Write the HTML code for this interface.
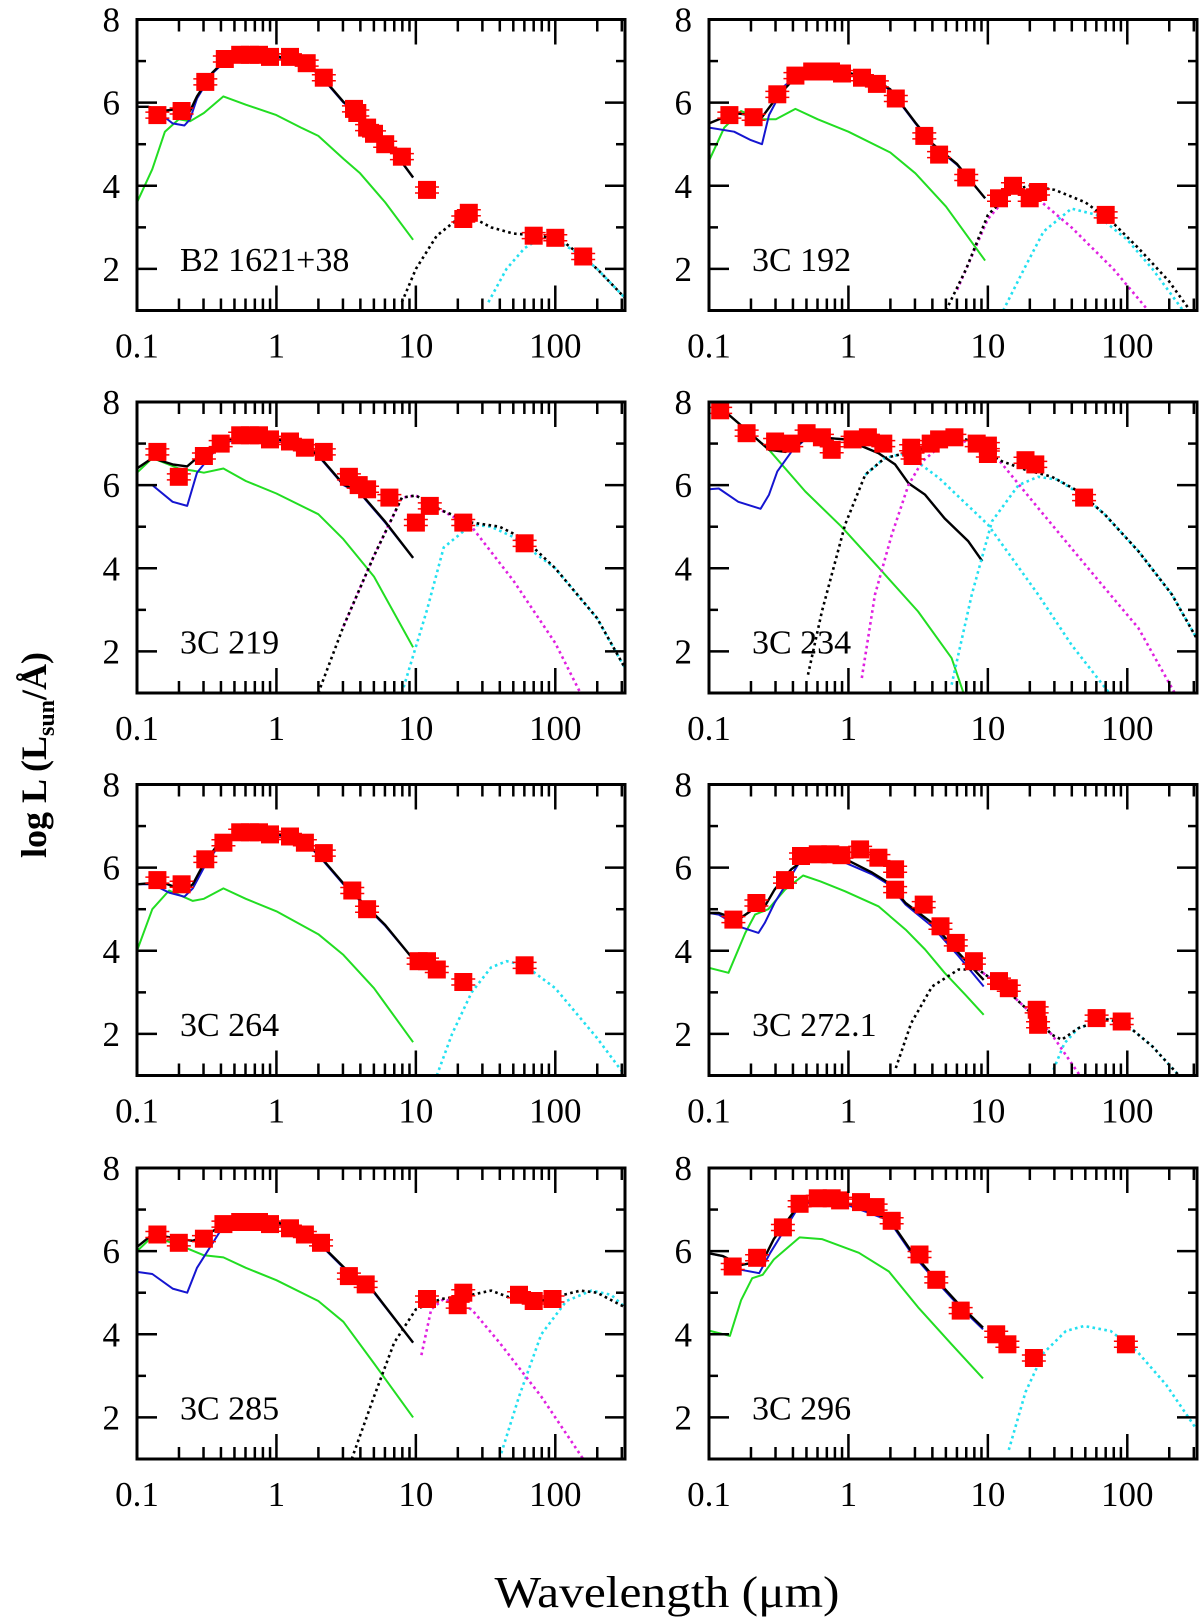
<!DOCTYPE html>
<html><head><meta charset="utf-8">
<style>
html,body{margin:0;padding:0;background:#fff;}
svg{display:block;}
text{font-family:"Liberation Sans",sans-serif;fill:#000;}
</style></head>
<body>
<svg id="chart" width="1200" height="1619" viewBox="0 0 1200 1619" xmlns="http://www.w3.org/2000/svg">
<text x="667" y="1607" font-size="44" text-anchor="middle" textLength="345" lengthAdjust="spacingAndGlyphs" style="font-family:'Liberation Serif',serif">Wavelength (μm)</text>
<text transform="translate(46,755) rotate(-90)" font-size="36" font-weight="bold" text-anchor="middle" style="font-family:'Liberation Serif',serif">log L (L<tspan font-size="24" dy="8">sun</tspan><tspan dy="-8">/Å)</tspan></text>
</svg>
<script>
// x data: log10(wavelength / micron); y data: log L
const xTickLabels = ["0.1","1","10","100"];
const yTickLabels = ["2","4","6","8"];
const panelNames = ["B2 1621+38","3C 192","3C 219","3C 234","3C 264","3C 272.1","3C 285","3C 296"];

const p1_points=[[-0.854,5.7],[-0.68,5.8],[-0.51,6.5],[-0.37,7.05],[-0.26,7.15],[-0.19,7.15],[-0.125,7.15],[-0.046,7.1],[0.097,7.1],[0.217,6.95],[0.34,6.6],[0.556,5.85],[0.58,5.75],[0.65,5.4],[0.70,5.25],[0.78,5.0],[0.90,4.7],[1.08,3.9],[1.34,3.2],[1.38,3.35],[1.845,2.8],[2.0,2.75],[2.2,2.3]];
const p1_blue=[[-1,5.9],[-0.92,5.9],[-0.82,5.7],[-0.745,5.5],[-0.66,5.45],[-0.62,5.6],[-0.57,6.1],[-0.46,6.7],[-0.35,7.05],[-0.22,7.15],[0,7.1],[0.176,6.95],[0.3,6.7],[0.48,6.0],[0.6,5.7],[0.7,5.3],[0.845,4.8],[0.98,4.2]];
const p1_black=[[-1,5.9],[-0.92,5.9],[-0.82,5.8],[-0.70,5.85],[-0.62,5.8],[-0.57,6.15],[-0.46,6.72],[-0.35,7.08],[-0.22,7.17],[0,7.12],[0.176,6.97],[0.3,6.72],[0.48,6.02],[0.6,5.72],[0.7,5.32],[0.845,4.82],[0.98,4.2]];
const p1_green=[[-1,3.6],[-0.89,4.4],[-0.8,5.3],[-0.7,5.6],[-0.62,5.55],[-0.52,5.75],[-0.38,6.15],[-0.22,5.95],[0,5.7],[0.176,5.4],[0.3,5.2],[0.48,4.65],[0.6,4.3],[0.78,3.6],[0.98,2.7]];
const p1_dotted=[[0.9,1.2],[1,2.0],[1.15,2.8],[1.3,3.2],[1.4,3.25],[1.54,3.0],[1.7,2.85],[1.9,2.8],[2.08,2.6],[2.3,2.0],[2.5,1.3]];
const p1_cyan=[[1.52,1.2],[1.65,2.0],[1.78,2.5],[1.9,2.75],[2.0,2.7],[2.18,2.35],[2.3,2.0],[2.5,1.3]];
const p1_magenta=[];

const p2_points=[[-0.854,5.7],[-0.68,5.65],[-0.51,6.2],[-0.38,6.65],[-0.26,6.75],[-0.19,6.75],[-0.125,6.75],[-0.046,6.7],[0.097,6.6],[0.204,6.45],[0.34,6.1],[0.544,5.2],[0.65,4.75],[0.845,4.2],[1.08,3.7],[1.18,4.0],[1.3,3.7],[1.36,3.85],[1.845,3.3]];
const p2_blue=[[-1,5.4],[-0.82,5.3],[-0.7,5.1],[-0.62,5.0],[-0.57,5.7],[-0.46,6.4],[-0.35,6.7],[-0.22,6.8],[0,6.7],[0.204,6.5],[0.3,6.3],[0.48,5.5],[0.6,5.0],[0.78,4.5],[0.98,3.7]];
const p2_black=[[-1,5.5],[-0.82,5.75],[-0.7,5.7],[-0.62,5.65],[-0.52,6.1],[-0.35,6.72],[-0.22,6.82],[0,6.72],[0.204,6.52],[0.3,6.32],[0.48,5.52],[0.6,5.02],[0.78,4.52],[0.98,3.7]];
const p2_green=[[-1,4.6],[-0.89,5.4],[-0.77,5.8],[-0.62,5.6],[-0.52,5.6],[-0.38,5.85],[-0.22,5.6],[0,5.3],[0.3,4.8],[0.48,4.3],[0.7,3.5],[0.98,2.2]];
const p2_dotted=[[0.7,1.0],[0.845,2.0],[1,3.3],[1.18,3.9],[1.3,4.0],[1.48,3.9],[1.7,3.6],[1.9,3.1],[2.08,2.5],[2.3,1.7],[2.45,1.0]];
const p2_cyan=[[1.11,1.0],[1.26,2.0],[1.4,2.9],[1.6,3.45],[1.78,3.3],[2,2.7],[2.18,2.0],[2.4,1.0]];
const p2_magenta=[[0.78,1.5],[1,3.2],[1.18,3.9],[1.3,3.85],[1.6,3.0],[1.9,2.0],[2.15,1.0]];

const p3_points=[[-0.854,6.8],[-0.7,6.2],[-0.52,6.7],[-0.4,7.0],[-0.26,7.2],[-0.19,7.2],[-0.125,7.2],[-0.046,7.1],[0.097,7.05],[0.204,6.9],[0.34,6.8],[0.52,6.2],[0.59,6.0],[0.65,5.9],[0.81,5.7],[1.0,5.1],[1.1,5.5],[1.34,5.1],[1.78,4.6]];
const p3_blue=[[-1,6.0],[-0.89,6.0],[-0.745,5.6],[-0.64,5.5],[-0.57,6.3],[-0.4,7.0],[-0.22,7.15],[0,7.1],[0.204,6.9],[0.3,6.7],[0.48,6.0],[0.6,5.8],[0.78,5.1],[0.98,4.25]];
const p3_black=[[-1,6.4],[-0.89,6.65],[-0.745,6.5],[-0.64,6.45],[-0.52,6.8],[-0.35,7.1],[-0.22,7.17],[0,7.12],[0.204,6.92],[0.3,6.72],[0.48,6.02],[0.6,5.82],[0.78,5.12],[0.98,4.25]];
const p3_green=[[-1,6.3],[-0.89,6.65],[-0.7,6.4],[-0.6,6.35],[-0.52,6.3],[-0.38,6.4],[-0.22,6.1],[0,5.8],[0.3,5.3],[0.48,4.7],[0.7,3.8],[0.98,2.1]];
const p3_dotted=[[0.3,1.0],[0.48,2.6],[0.7,4.3],[0.9,5.7],[1,5.75],[1.18,5.4],[1.4,5.1],[1.6,5.0],[1.78,4.7],[2,4.0],[2.3,2.8],[2.5,1.6]];
const p3_cyan=[[0.9,1.0],[1.08,3.0],[1.2,4.5],[1.4,5.05],[1.54,5.0],[1.7,4.75],[2,4.0],[2.3,2.8],[2.5,1.6]];
const p3_magenta=[[0.48,2.6],[0.7,4.3],[0.9,5.7],[1,5.75],[1.18,5.4],[1.4,5.0],[1.7,3.7],[2.0,2.2],[2.18,1.0]];

const p4_points=[[-0.92,7.8],[-0.73,7.25],[-0.526,7.05],[-0.41,7.0],[-0.30,7.25],[-0.19,7.15],[-0.12,6.85],[0.03,7.1],[0.14,7.15],[0.25,7.0],[0.45,6.9],[0.46,6.7],[0.59,7.0],[0.65,7.1],[0.76,7.15],[0.92,7.0],[1.0,6.95],[1.0,6.75],[1.27,6.6],[1.34,6.5],[1.69,5.7]];
const p4_blue=[[-1,5.9],[-0.93,5.92],[-0.79,5.6],[-0.63,5.43],[-0.57,5.77],[-0.51,6.33],[-0.41,6.8],[-0.31,7.1],[-0.215,7.15],[-0.02,7.1],[0.215,6.77],[0.335,6.5],[0.43,6.05],[0.55,5.77],[0.69,5.2],[0.86,4.65],[0.96,4.17]];
const p4_black=[[-0.93,7.9],[-0.74,7.35],[-0.57,6.85],[-0.45,6.8],[-0.31,7.1],[-0.215,7.15],[-0.02,7.1],[0.215,6.77],[0.335,6.5],[0.43,6.05],[0.55,5.77],[0.69,5.2],[0.86,4.65],[0.96,4.17]];
const p4_green=[[-1,8.1],[-0.93,7.9],[-0.74,7.35],[-0.57,6.85],[-0.31,5.85],[-0.05,5.0],[0.24,3.93],[0.50,2.96],[0.74,1.84],[0.825,1.0]];
const p4_dotted=[[-0.29,1.44],[-0.19,2.96],[-0.024,5.05],[0.12,6.25],[0.26,6.65],[0.41,6.77],[0.55,6.9],[0.77,7.17],[0.89,7.05],[1.08,6.6],[1.27,6.37],[1.46,6.2],[1.65,5.85],[1.84,5.29],[2.08,4.41],[2.32,3.37],[2.5,2.3]];
const p4_cyan=[[0.12,6.25],[0.26,6.65],[0.41,6.77],[0.65,6.17],[1.0,5.05],[1.36,3.37],[1.6,2.16],[1.87,1.0]];
const p4_cyan2=[[0.74,1.2],[0.885,3.37],[1.03,5.13],[1.22,6.0],[1.36,6.2],[1.5,6.13],[1.7,5.7],[1.84,5.29],[2.08,4.41],[2.32,3.37],[2.5,2.3]];
const p4_magenta=[[0.096,1.36],[0.19,3.36],[0.31,4.8],[0.43,6.0],[0.53,6.57],[0.70,7.05],[0.79,7.13],[1.08,6.6],[1.36,5.45],[1.72,4.0],[2.08,2.56],[2.34,1.0]];

const p5_points=[[-0.854,5.7],[-0.68,5.6],[-0.51,6.2],[-0.38,6.6],[-0.26,6.85],[-0.19,6.85],[-0.125,6.85],[-0.046,6.8],[0.097,6.75],[0.204,6.6],[0.34,6.35],[0.544,5.45],[0.65,5.0],[1.02,3.75],[1.08,3.75],[1.15,3.55],[1.34,3.25],[1.78,3.65]];
const p5_blue=[[-1,5.6],[-0.89,5.6],[-0.77,5.4],[-0.66,5.3],[-0.6,5.5],[-0.52,6.0],[-0.4,6.6],[-0.22,6.85],[0,6.8],[0.204,6.6],[0.3,6.3],[0.48,5.6],[0.6,5.2],[0.78,4.6],[0.98,3.8]];
const p5_black=[[-1,5.6],[-0.82,5.65],[-0.66,5.45],[-0.6,5.6],[-0.52,6.1],[-0.4,6.65],[-0.22,6.87],[0,6.82],[0.204,6.62],[0.3,6.32],[0.48,5.62],[0.6,5.22],[0.78,4.62],[0.98,3.8]];
const p5_green=[[-1,4.0],[-0.89,5.0],[-0.77,5.45],[-0.6,5.2],[-0.52,5.25],[-0.38,5.5],[-0.22,5.25],[0,4.95],[0.3,4.4],[0.48,3.9],[0.7,3.1],[0.98,1.8]];
const p5_dotted=[];
const p5_cyan=[[1.15,1.0],[1.26,2.0],[1.4,3.0],[1.54,3.6],[1.65,3.75],[1.78,3.65],[2,3.1],[2.3,1.9],[2.5,1.0]];
const p5_magenta=[];

const p6_points=[[-0.825,4.75],[-0.66,5.15],[-0.455,5.7],[-0.34,6.28],[-0.22,6.32],[-0.13,6.32],[-0.05,6.3],[0.084,6.44],[0.215,6.24],[0.335,5.96],[0.335,5.47],[0.54,5.11],[0.66,4.59],[0.77,4.19],[0.90,3.75],[1.08,3.27],[1.15,3.1],[1.35,2.58],[1.36,2.22],[1.78,2.38],[1.96,2.3]];
const p6_blue=[[-1,4.91],[-0.93,4.87],[-0.79,4.59],[-0.645,4.43],[-0.6,4.67],[-0.53,5.15],[-0.36,6.08],[-0.27,6.16],[-0.024,6.12],[0.17,5.84],[0.29,5.59],[0.41,5.11],[0.6,4.59],[0.79,3.87],[0.97,3.14]];
const p6_black=[[-1,4.91],[-0.93,4.91],[-0.79,4.75],[-0.67,5.03],[-0.6,5.07],[-0.53,5.47],[-0.41,5.96],[-0.29,6.26],[-0.2,6.28],[-0.024,6.21],[0.17,5.88],[0.29,5.63],[0.41,5.15],[0.6,4.67],[0.79,3.95],[0.97,3.3]];
const p6_green=[[-1,3.59],[-0.86,3.47],[-0.74,4.43],[-0.67,4.87],[-0.575,5.0],[-0.455,5.47],[-0.325,5.81],[-0.2,5.67],[-0.024,5.43],[0.215,5.07],[0.41,4.51],[0.55,4.03],[0.69,3.47],[0.84,2.94],[0.97,2.46]];
const p6_dotted=[[0.34,1.18],[0.45,2.26],[0.6,3.14],[0.79,3.55],[0.93,3.55],[1.12,3.1],[1.31,2.5],[1.46,1.98],[1.53,1.86],[1.65,2.14],[1.84,2.36],[1.98,2.26],[2.18,1.7],[2.37,1.0]];
const p6_cyan=[[1.47,1.14],[1.55,1.78],[1.65,2.14],[1.84,2.36],[1.98,2.26],[2.18,1.7],[2.37,1.0]];
const p6_magenta=[[0.93,3.55],[1.12,3.1],[1.31,2.5],[1.46,1.98],[1.66,1.0]];

const p7_points=[[-0.854,6.4],[-0.7,6.2],[-0.52,6.3],[-0.38,6.65],[-0.26,6.7],[-0.19,6.7],[-0.125,6.7],[-0.046,6.65],[0.097,6.55],[0.204,6.4],[0.32,6.2],[0.52,5.4],[0.64,5.2],[1.08,4.85],[1.3,4.7],[1.34,5.0],[1.74,4.95],[1.845,4.8],[1.98,4.85]];
const p7_blue=[[-1,5.5],[-0.89,5.45],[-0.745,5.1],[-0.64,5.0],[-0.57,5.6],[-0.4,6.5],[-0.22,6.7],[0,6.65],[0.204,6.45],[0.3,6.2],[0.48,5.6],[0.7,5.0],[0.98,3.8]];
const p7_black=[[-1,6.1],[-0.89,6.4],[-0.7,6.3],[-0.6,6.25],[-0.52,6.35],[-0.35,6.7],[-0.22,6.75],[0,6.7],[0.204,6.47],[0.3,6.22],[0.48,5.62],[0.7,5.02],[0.98,3.8]];
const p7_green=[[-1,6.0],[-0.89,6.35],[-0.7,6.15],[-0.52,5.9],[-0.38,5.85],[-0.22,5.6],[0,5.3],[0.3,4.8],[0.48,4.3],[0.7,3.3],[0.98,2.0]];
const p7_dotted=[[0.54,1.0],[0.7,2.5],[0.845,3.8],[1,4.6],[1.18,4.85],[1.4,4.95],[1.54,5.05],[1.7,4.85],[1.845,4.75],[2,4.9],[2.18,5.05],[2.3,5.0],[2.5,4.65]];
const p7_cyan=[[1.6,1.0],[1.74,2.5],[1.9,4.0],[2.08,4.8],[2.26,5.05],[2.4,4.95],[2.5,4.65]];
const p7_magenta=[[1.04,3.5],[1.11,4.6],[1.2,4.85],[1.4,4.6],[1.6,3.8],[1.9,2.5],[2.2,1.0]];

const p8_points=[[-0.83,5.63],[-0.655,5.84],[-0.47,6.57],[-0.35,7.14],[-0.22,7.27],[-0.12,7.27],[-0.06,7.22],[0.09,7.18],[0.195,7.06],[0.31,6.73],[0.51,5.92],[0.63,5.31],[0.805,4.57],[1.06,4.0],[1.14,3.76],[1.33,3.43],[1.99,3.76]];
const p8_blue=[[-0.99,5.94],[-0.9,5.88],[-0.77,5.55],[-0.64,5.47],[-0.56,5.96],[-0.35,7.1],[-0.24,7.2],[-0.03,7.14],[0.13,6.94],[0.29,6.74],[0.45,5.96],[0.61,5.35],[0.79,4.69],[0.965,4.12]];
const p8_black=[[-0.99,5.94],[-0.9,5.88],[-0.77,5.67],[-0.615,5.76],[-0.535,6.29],[-0.35,7.14],[-0.24,7.25],[-0.03,7.18],[0.13,6.98],[0.29,6.78],[0.45,6.0],[0.61,5.39],[0.79,4.73],[0.965,4.16]];
const p8_green=[[-0.99,4.08],[-0.85,3.96],[-0.77,4.82],[-0.69,5.35],[-0.615,5.43],[-0.535,5.8],[-0.35,6.33],[-0.19,6.29],[0.075,5.96],[0.29,5.51],[0.5,4.65],[0.74,3.76],[0.965,2.94]];
const p8_dotted=[];
const p8_cyan=[[1.15,1.22],[1.27,2.61],[1.4,3.55],[1.56,4.08],[1.69,4.2],[1.88,4.08],[2.07,3.59],[2.28,2.78],[2.5,1.7]];
const p8_magenta=[];

const svg=document.getElementById('chart');
const NS='http://www.w3.org/2000/svg';
const colX=[137,709], rowY=[19.5,402,784.5,1168], W=488, H=291;
const XMIN=-1, XMAX=2.5, YMIN=1, YMAX=8;
function mk(tag,attrs,parent){const e=document.createElementNS(NS,tag);for(const k in attrs)e.setAttribute(k,attrs[k]);(parent||svg).appendChild(e);return e;}

const panels=[
 {pts:p1_points,blue:p1_blue,black:p1_black,green:p1_green,dotted:p1_dotted,cyan:[p1_cyan],mag:p1_magenta},
 {pts:p2_points,blue:p2_blue,black:p2_black,green:p2_green,dotted:p2_dotted,cyan:[p2_cyan],mag:p2_magenta},
 {pts:p3_points,blue:p3_blue,black:p3_black,green:p3_green,dotted:p3_dotted,cyan:[p3_cyan],mag:p3_magenta},
 {pts:p4_points,blue:p4_blue,black:p4_black,green:p4_green,dotted:p4_dotted,cyan:[p4_cyan,p4_cyan2],mag:p4_magenta},
 {pts:p5_points,blue:p5_blue,black:p5_black,green:p5_green,dotted:p5_dotted,cyan:[p5_cyan],mag:p5_magenta},
 {pts:p6_points,blue:p6_blue,black:p6_black,green:p6_green,dotted:p6_dotted,cyan:[p6_cyan],mag:p6_magenta},
 {pts:p7_points,blue:p7_blue,black:p7_black,green:p7_green,dotted:p7_dotted,cyan:[p7_cyan],mag:p7_magenta},
 {pts:p8_points,blue:p8_blue,black:p8_black,green:p8_green,dotted:p8_dotted,cyan:[p8_cyan],mag:p8_magenta}
];

panels.forEach((p,i)=>{
  const x0=colX[i%2], y0=rowY[Math.floor(i/2)];
  const sx=v=>x0+(v-XMIN)/(XMAX-XMIN)*W;
  const sy=v=>y0+H-(v-YMIN)/(YMAX-YMIN)*H;
  const g=mk('g',{});
  
  
  const clipId='clip'+i;
  const cp=mk('clipPath',{id:clipId},g); mk('rect',{x:x0,y:y0,width:W,height:H},cp);
  const plot=mk('g',{'clip-path':'url(#'+clipId+')'},g);
  const line=(arr,color,w,dash,name)=>{
    if(!arr.length)return;
    const d=arr.map((q,k)=>(k?'L':'M')+sx(q[0]).toFixed(1)+','+sy(q[1]).toFixed(1)).join('');
    const a={d:d,fill:'none',stroke:color,'stroke-width':w,'stroke-linejoin':'round'};
    if(dash){a['stroke-dasharray']=dash;}
    const e=mk('path',a,plot);
    
    
  };
  line(p.green,'#22dd22',2,null,'stellar-curve');
  line(p.blue,'#1515d0',2,null,'host-curve');
  line(p.black,'#000000',2.4,null,'total-optical-curve');
  p.cyan.forEach(c=>line(c,'#22e0f0',2.6,'2.6 3.4','cold-dust-curve'));
  line(p.mag,'#e020e0',2.6,'2.6 3.4','warm-dust-curve');
  line(p.dotted,'#000000',2.6,'2.6 3.4','total-ir-curve');
  p.pts.forEach(q=>{
    const cx=sx(q[0]), cy=sy(q[1]);
    const r=mk('rect',{x:(cx-9).toFixed(1),y:(cy-9).toFixed(1),width:18,height:18,fill:'#ff0000'},plot);
    
    
    mk('line',{x1:cx-12,x2:cx+12,y1:cy-3,y2:cy-3,stroke:'#ff0000','stroke-width':1.5},plot);
    mk('line',{x1:cx-12,x2:cx+12,y1:cy+3,y2:cy+3,stroke:'#ff0000','stroke-width':1.5},plot);
  });
  const fr=mk('rect',{x:x0,y:y0,width:W,height:H,fill:'none',stroke:'#000','stroke-width':3},g);
  
  
  for(let dec=-1;dec<=2;dec++){
    for(let m=1;m<=9;m++){
      const v=dec+Math.log10(m); if(v>XMAX)break;
      const L=m===1?25:12;
      mk('line',{x1:sx(v),x2:sx(v),y1:y0+H,y2:y0+H-L,stroke:'#000','stroke-width':2.5},g);
      mk('line',{x1:sx(v),x2:sx(v),y1:y0,y2:y0+L,stroke:'#000','stroke-width':2.5},g);
    }
  }
  xTickLabels.forEach((t,k)=>{
    const e=mk('text',{x:sx(k-1),y:y0+H+47,'font-size':35,'text-anchor':'middle',style:"font-family:'Liberation Serif',serif"},g);
    e.textContent=t;
    
    
  });
  for(let v=2;v<=7;v++){
    const L=v%2===0?20:9;
    mk('line',{x1:x0,x2:x0+L,y1:sy(v),y2:sy(v),stroke:'#000','stroke-width':2.5},g);
    mk('line',{x1:x0+W,x2:x0+W-L,y1:sy(v),y2:sy(v),stroke:'#000','stroke-width':2.5},g);
  }
  yTickLabels.forEach((t,k)=>{
    const e=mk('text',{x:x0-17,y:sy(2+2*k)+12,'font-size':35,'text-anchor':'end',style:"font-family:'Liberation Serif',serif"},g);
    e.textContent=t;
    
    
  });
  const lbl=mk('text',{x:x0+43,y:sy(2)+2,'font-size':34,style:"font-family:'Liberation Serif',serif"},g);
  lbl.textContent=panelNames[i];
  
  
});
</script>
</body></html>
